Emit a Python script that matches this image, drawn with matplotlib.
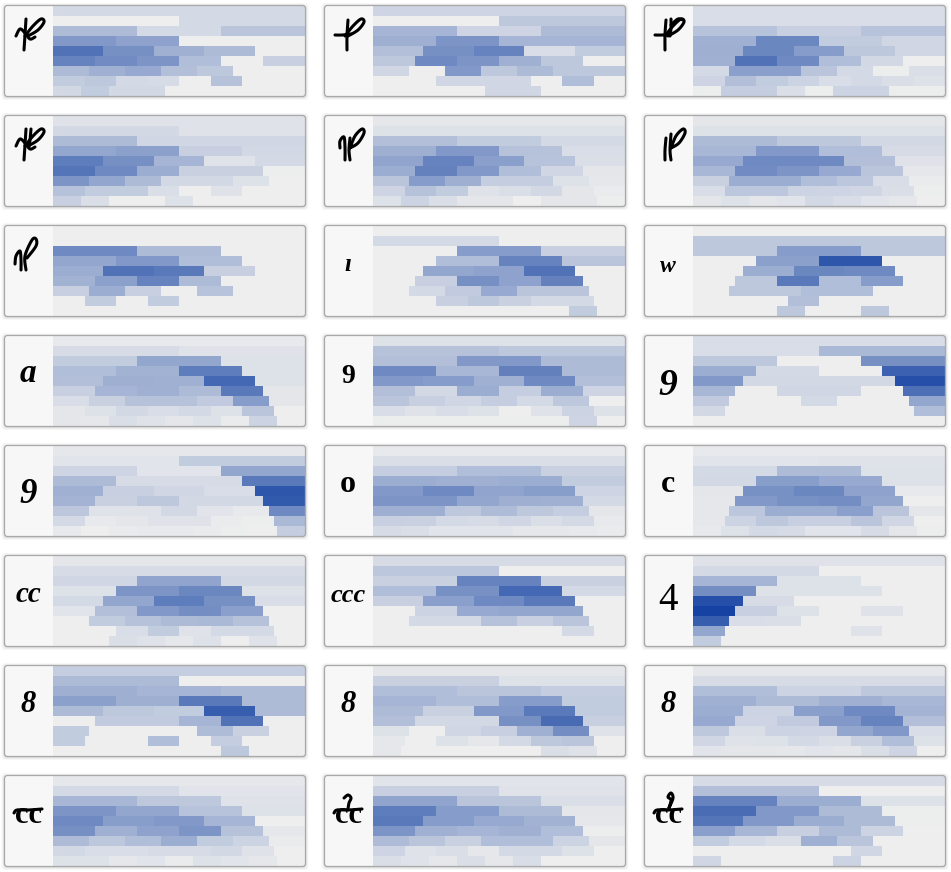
import numpy as np
from matplotlib import pyplot as plt
from matplotlib.colors import LinearSegmentedColormap
from matplotlib.patches import FancyBboxPatch

# shares per word length (rows) and position in word (cells), 0-100
p1 = [[12], [0, 12], [30, 12, 24], [50, 44, 0, 0], [72, 55, 36, 30, 0], [62, 57, 52, 28, 0, 18],
      [30, 36, 40, 27, 22, 0, 0], [20, 22, 12, 11, 0, 26, 0, 0], [13, 20, 13, 13, 0, 0, 0, 0, 0]]
p2 = [[15], [0, 22], [33, 15, 30], [37, 52, 33, 33], [27, 55, 62, 10, 20], [22, 58, 52, 36, 22, 0],
      [14, 0, 50, 22, 30, 22, 22], [0, 0, 14, 14, 14, 0, 28, 0], [0, 0, 0, 0, 14, 14, 0, 0, 0]]
p3 = [[10], [10, 10], [25, 18, 25], [36, 60, 20, 14], [37, 60, 48, 22, 14], [36, 72, 58, 28, 13, 0],
      [12, 46, 46, 24, 12, 1, 9], [15, 27, 20, 16, 10, 12, 9, 8], [1, 19, 19, 9, 1, 16, 16, 1, 1]]
p4 = [[7], [13, 7], [30, 14, 14], [42, 45, 18, 13], [66, 55, 33, 7, 12], [70, 58, 38, 17, 17, 1],
      [52, 42, 30, 13, 13, 8, 0], [26, 20, 20, 9, 0, 7, 0, 0], [18, 9, 0, 0, 8, 0, 0, 0, 0]]
p5 = [[4], [8, 8], [27, 20, 12], [37, 50, 26, 10], [43, 62, 46, 25, 9], [38, 63, 50, 28, 14, 5],
      [24, 48, 37, 19, 19, 8, 4], [15, 26, 20, 7, 9, 13, 5, 2], [8, 16, 9, 5, 5, 0, 5, 5, 1]]
p6 = [[5], [8, 8], [30, 22, 13], [32, 50, 28, 11], [40, 58, 58, 27, 7], [32, 57, 52, 40, 24, 4],
      [17, 38, 38, 28, 23, 10, 2], [10, 23, 23, 16, 15, 14, 9, 1], [5, 8, 5, 6, 13, 10, 6, 4, 0]]
f1 = [[0], [0, 0], [58, 30, 0], [42, 50, 28, 0], [38, 72, 68, 18, 0], [35, 45, 62, 30, 0, 0],
      [18, 38, 18, 0, 25, 0, 0], [0, 20, 0, 20, 0, 0, 0, 0], [0, 0, 0, 0, 0, 0, 0, 0, 0]]
i1 = [[0], [12, 0], [0, 48, 18], [0, 28, 62, 24], [0, 42, 44, 72, 0], [0, 18, 55, 44, 63, 0],
      [0, 12, 21, 40, 24, 24, 0], [0, 0, 18, 22, 17, 12, 12, 0], [0, 0, 0, 0, 0, 0, 0, 20, 0]]
i2 = [[0], [22, 22], [22, 48, 22], [0, 45, 88, 0], [0, 38, 60, 58, 0], [0, 22, 68, 28, 48, 0],
      [0, 22, 22, 28, 28, 0, 0], [0, 0, 0, 27, 0, 0, 0, 0], [0, 0, 0, 22, 0, 0, 22, 0, 0]]
a1 = [[3], [11, 7], [20, 42, 8], [28, 35, 66, 8], [27, 37, 36, 78, 8], [18, 33, 36, 30, 68, 5],
      [10, 17, 26, 26, 21, 48, 5], [5, 8, 13, 10, 12, 8, 24, 0], [5, 4, 9, 7, 5, 8, 2, 16, 0]]
a2 = [[8], [26, 22], [27, 50, 30], [58, 32, 64, 30], [50, 48, 36, 58, 27], [27, 13, 38, 19, 38, 15],
      [24, 18, 14, 19, 12, 22, 0], [10, 7, 10, 8, 0, 7, 16, 8], [1, 1, 1, 1, 1, 1, 1, 15, 0]]
y1 = [[10], [10, 31], [22, 0, 55], [38, 12, 0, 82], [50, 13, 13, 13, 92], [32, 0, 14, 14, 0, 74],
      [21, 0, 0, 12, 0, 0, 42], [13, 0, 0, 0, 0, 0, 0, 28], [0, 0, 0, 0, 0, 0, 0, 0, 0]]
y2 = [[4], [6, 20], [15, 6, 42], [30, 11, 11, 68], [36, 18, 14, 10, 88], [34, 17, 22, 13, 13, 86],
      [23, 7, 7, 13, 6, 3, 58], [12, 3, 5, 7, 7, 2, 1, 31], [3, 0, 2, 3, 3, 2, 1, 0, 19]]
o1 = [[3], [9, 9], [19, 28, 17], [38, 36, 38, 20], [50, 58, 43, 47, 15], [52, 52, 42, 37, 36, 12],
      [37, 37, 22, 29, 22, 19, 5], [18, 17, 12, 11, 14, 9, 12, 3], [11, 9, 6, 6, 6, 4, 4, 3, 2]]
c1 = [[3], [6, 7], [12, 30, 8], [13, 47, 40, 8], [5, 54, 60, 44, 3], [4, 50, 54, 56, 42, 0],
      [4, 23, 38, 38, 46, 24, 5], [4, 16, 22, 18, 18, 24, 14, 0], [3, 8, 12, 11, 6, 6, 11, 5, 1]]
c2 = [[5], [11, 11], [14, 43, 13], [8, 52, 60, 8], [12, 42, 66, 55, 10], [6, 27, 50, 56, 46, 0],
      [0, 20, 26, 30, 31, 26, 0], [0, 0, 10, 20, 7, 12, 12, 0], [0, 0, 9, 7, 4, 8, 0, 7, 0]]
c3 = [[11], [23, 0], [17, 62, 17], [28, 54, 78, 12], [18, 46, 58, 68, 0], [0, 16, 40, 42, 42, 0],
      [0, 12, 12, 26, 18, 24, 0], [0, 0, 0, 0, 0, 0, 12, 0], [0, 0, 0, 0, 0, 0, 0, 0, 0]]
q1 = [[7], [12, 0], [33, 8, 0], [56, 8, 8, 0], [92, 11, 0, 0, 0], [99, 18, 8, 0, 7, 0],
      [84, 10, 9, 0, 0, 0, 0], [42, 0, 0, 0, 0, 7, 0, 0], [20, 0, 0, 0, 0, 0, 0, 0, 0]]
d1 = [[19], [30, 0], [37, 33, 30], [45, 37, 68, 30], [30, 22, 20, 84, 30], [0, 21, 21, 33, 72, 0],
      [20, 0, 0, 0, 29, 17, 0], [20, 0, 0, 28, 0, 19, 0, 0], [0, 0, 0, 0, 0, 0, 22, 0, 0]]
d2 = [[5], [17, 8], [28, 24, 19], [33, 28, 48, 20], [30, 17, 50, 68, 20], [27, 13, 13, 55, 76, 18],
      [8, 0, 14, 18, 36, 56, 7], [4, 0, 8, 4, 12, 22, 24, 0], [4, 0, 0, 0, 0, 0, 9, 7, 0]]
d3 = [[4], [11, 11], [28, 16, 22], [36, 30, 36, 32], [38, 16, 46, 58, 34], [40, 15, 21, 50, 62, 27],
      [22, 9, 16, 15, 42, 50, 10], [14, 7, 8, 12, 9, 17, 28, 8], [6, 5, 5, 4, 6, 5, 9, 15, 0]]
h1 = [[4], [12, 6], [32, 22, 7], [52, 42, 25, 8], [58, 47, 50, 33, 0], [55, 36, 44, 52, 26, 4],
      [30, 22, 28, 38, 20, 16, 2], [13, 10, 10, 11, 11, 13, 7, 0], [8, 8, 4, 6, 2, 8, 6, 4, 0]]
h2 = [[6], [18, 7], [43, 24, 9], [66, 48, 30, 5], [68, 48, 40, 35, 4], [52, 36, 33, 36, 28, 1],
      [29, 24, 17, 28, 28, 16, 5], [15, 7, 9, 4, 12, 12, 8, 0], [9, 7, 4, 9, 4, 10, 0, 0, 0]]
h3 = [[11], [27, 0], [62, 38, 8], [75, 50, 30, 1], [70, 50, 38, 30, 1], [46, 32, 18, 30, 16, 0],
      [20, 12, 9, 36, 24, 0, 0], [0, 0, 0, 0, 0, 14, 0, 0], [14, 0, 0, 0, 0, 16, 0, 0, 0]]

panels = [p1, p2, p3, p4, p5, p6, f1, i1, i2, a1, a2, y1, y2, o1, c1, c2, c3, q1, d1, d2, d3, h1, h2, h3]

# glyphs that have a usable character, the gallows have none so they get strokes below
labels = ["", "", "", "", "", "", "", "ı", "w", "a", "9", "9", "9", "o", "c", "cc", "ccc", "4", "8", "8", "8",
          "cc", "cc", "cc"]
label_sizes = [0, 0, 0, 0, 0, 0, 0, 18, 17, 24, 20, 27, 25, 23, 23, 21, 19, 28, 22, 22, 22, 22, 22, 22]
baselines = [0, 0, 0, 0, 0, 0, 0, 51, 52, 52, 53, 65, 63, 52, 52, 52, 52, 60, 52, 52, 52, 53, 53, 53]
italic = [0, 0, 0, 0, 0, 0, 0, 1, 1, 1, 0, 1, 1, 0, 0, 1, 1, 0, 1, 1, 1, 0, 0, 0]

LOOP = [(25, 36), (33, 26), (41, 19), (44, 22), (38, 30), (28, 36)]
FLOURISH = [(16, 36), (20, 29), (25, 33), (30, 39), (35, 37)]
BAR = [(15, 35), (22, 35), (31, 34)]
TOPBAR = [(14, 43), (17, 40), (28, 40), (42, 39)]
strokes = {
    0: [[(26, 19), (25, 35), (24, 50)], LOOP, FLOURISH],
    1: [[(28, 20), (27, 36), (27, 50)], LOOP, BAR],
    2: [[(26, 20), (25, 35), (25, 50)], [(31, 19), (31, 28), (30, 36)], LOOP, BAR, [(31, 25), (38, 19), (43, 20)]],
    3: [[(26, 19), (25, 35), (24, 50)], [(31, 19), (30, 30), (29, 37)], LOOP, FLOURISH],
    4: [[(20, 38), (20, 31), (24, 27), (25, 38), (25, 50)], [(30, 28), (29, 40), (30, 50)],
        [(30, 38), (35, 26), (42, 19), (44, 23), (38, 33), (30, 38)]],
    5: [[(26, 28), (25, 40), (25, 50)], [(31, 24), (30, 40), (31, 50)],
        [(31, 38), (36, 26), (43, 19), (45, 23), (39, 33), (31, 38)]],
    6: [[(15, 44), (16, 36), (20, 31), (21, 40), (21, 50)],
        [(26, 50), (25, 36), (32, 20), (36, 19), (36, 26), (27, 38)]],
    21: [TOPBAR],
    22: [TOPBAR, [(24, 28), (28, 25), (31, 28), (29, 33), (28, 39)]],
    23: [TOPBAR, [(29, 38), (31, 30), (28, 27), (31, 23), (33, 28), (29, 38)]],
}

hmap = LinearSegmentedColormap.from_list("voy", ["#eeeeee", "#1442a2"])


def smooth(pts):
    # catmull-rom so the pen strokes dont look like polylines
    pts = np.array(pts, dtype=float)
    pts = np.vstack([pts[0], pts, pts[-1]])
    out = []
    for k in range(1, len(pts) - 2):
        for t in np.linspace(0, 1, 12):
            a, b, c, d = pts[k - 1], pts[k], pts[k + 1], pts[k + 2]
            out.append(0.5 * (2 * b + (c - a) * t + (2 * a - 5 * b + 4 * c - d) * t ** 2
                              + (3 * b - a - 3 * c + d) * t ** 3))
    return np.array(out)


W, H = 951, 872
fig = plt.figure(figsize=(W / 100, H / 100), dpi=100, facecolor="white")

back = fig.add_axes([0, 0, 1, 1])
back.set_xlim(0, W)
back.set_ylim(H, 0)
back.axis("off")

front = fig.add_axes([0, 0, 1, 1], facecolor="none")
front.set_xlim(0, W)
front.set_ylim(H, 0)
front.axis("off")
front.set_zorder(5)

for idx, panel in enumerate(panels):
    col = idx % 3
    row = idx // 3
    x0 = 4.5 + 320 * col
    y0 = 5.5 + 110 * row

    # soft shadow
    for grow, alpha in [(3, 0.03), (2, 0.04), (1, 0.06)]:
        back.add_patch(FancyBboxPatch((x0 - grow, y0 - grow + 0.5), 301 + 2 * grow, 91 + 2 * grow,
                                      boxstyle="round,pad=0,rounding_size=4", fc="black", ec="none", alpha=alpha))
    back.add_patch(FancyBboxPatch((x0, y0), 301, 91, boxstyle="round,pad=0,rounding_size=3",
                                  fc="#f7f7f7", ec="none"))

    ax = fig.add_axes([(x0 + 48.5) / W, 1 - (y0 + 90.5) / H, 252 / W, 90 / H], facecolor="#eeeeee")
    for r, cells in enumerate(panel):
        n = len(cells)
        for k, v in enumerate(cells):
            ax.barh(r, 1 / n, left=k / n, height=1, color=hmap(v / 100), linewidth=0)
    ax.set_xlim(0, 1)
    ax.set_ylim(8.5, -0.5)
    ax.axis("off")

    front.add_patch(FancyBboxPatch((x0, y0), 301, 91, boxstyle="round,pad=0,rounding_size=3",
                                   fc="none", ec="#a9a9a9", lw=0.9))

    if labels[idx]:
        front.text(320 * col + 28, 110 * row + baselines[idx], labels[idx], ha="center", va="baseline",
                   fontsize=label_sizes[idx], color="black", family="Liberation Serif",
                   weight="normal" if labels[idx] == "4" else "bold",
                   style="italic" if italic[idx] else "normal")
    for st in strokes.get(idx, []):
        line = smooth(st)
        front.plot(line[:, 0] + 320 * col, line[:, 1] + 110 * row, color="black", lw=2.2,
                   solid_capstyle="round")

fig.savefig("out.png", dpi=100)
